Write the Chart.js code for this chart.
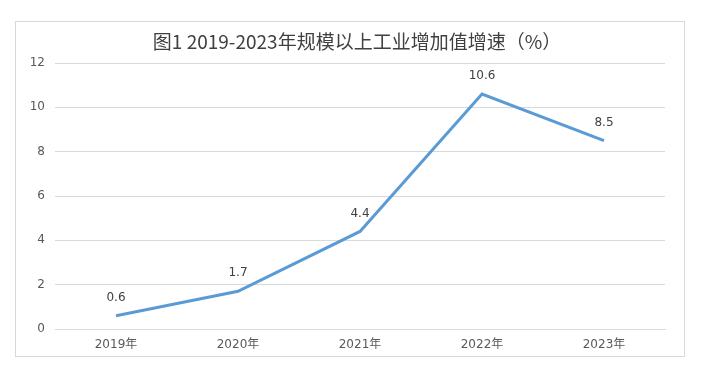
<!DOCTYPE html>
<html>
<head>
<meta charset="utf-8">
<script src="https://cdn.jsdelivr.net/npm/chart.js@4/dist/chart.umd.min.js"></script>
<style>
  html, body { margin: 0; padding: 0; background: #fff; }
  #wrap { width: 711px; height: 377px; position: relative; }
</style>
</head>
<body>
<div id="wrap"><canvas id="growthChart"></canvas></div>
<script>
const years = ['2019年', '2020年', '2021年', '2022年', '2023年'];
const growthRates = [0.6, 1.7, 4.4, 10.6, 8.5];
const yTicks = [0, 2, 4, 6, 8, 10, 12];
const chartTitle = '图1 2019-2023年规模以上工业增加值增速（%）';

const tickFont = { family: '"DejaVu Sans", "Noto Sans CJK SC", sans-serif', size: 12 };

// outer frame + title, drawn like the office chart
const frameBox = {
    id: 'frameBox',
    beforeDraw(chart) {
        const c = chart.ctx;
        c.save();
        c.strokeStyle = '#d9d9d9';
        c.lineWidth = 1;
        c.strokeRect(15.5, 21.5, 669, 335);
        c.font = '19px "Noto Sans CJK SC", sans-serif';
        c.fillStyle = '#404040';
        c.textAlign = 'center';
        c.textBaseline = 'middle';
        c.fillText(chartTitle, 357, 42);
        c.restore();
    }
};

// value labels above each point
const valueLabels = {
    id: 'valueLabels',
    afterDatasetsDraw(chart) {
        const c = chart.ctx;
        const meta = chart.getDatasetMeta(0);
        c.save();
        c.font = '12px "DejaVu Sans", sans-serif';
        c.fillStyle = '#404040';
        c.textAlign = 'center';
        c.textBaseline = 'middle';
        meta.data.forEach((pt, i) => {
            c.fillText(growthRates[i].toFixed(1), pt.x, pt.y - 18);
        });
        c.restore();
    }
};

new Chart(document.getElementById('growthChart').getContext('2d'), {
    type: 'line',
    data: {
        labels: years,
        datasets: [{
            data: growthRates,
            borderColor: '#5B9BD5',
            borderWidth: 3,
            pointRadius: 0,
            fill: false,
            tension: 0
        }]
    },
    options: {
        responsive: true,
        maintainAspectRatio: false,
        animation: false,
        layout: { padding: { left: 15, right: 46, top: 63, bottom: 21 } },
        plugins: {
            legend: { display: false },
            tooltip: { enabled: false },
            title: { display: false }
        },
        scales: {
            x: {
                offset: true,
                grid: { display: false, drawTicks: false },
                border: { display: true, color: '#d9d9d9' },
                ticks: { color: '#595959', font: tickFont, padding: 9, maxRotation: 0 },
                afterFit(scale) { scale.height = 27; }
            },
            y: {
                min: 0,
                max: 12,
                afterBuildTicks(scale) { scale.ticks = yTicks.map(v => ({ value: v })); },
                grid: { color: '#d9d9d9', drawTicks: false },
                border: { display: false },
                ticks: { color: '#595959', font: tickFont, padding: 10 },
                afterFit(scale) { scale.width = 40; }
            }
        }
    },
    plugins: [frameBox, valueLabels]
});
</script>
</body>
</html>
